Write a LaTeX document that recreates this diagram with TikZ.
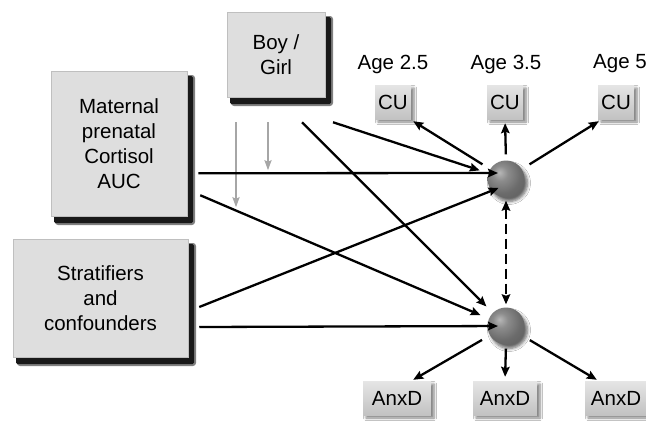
\documentclass[tikz,border=0pt]{standalone}
\usepackage{fontspec}
\setmainfont{Liberation Sans}
\usetikzlibrary{arrows.meta,shadows.blur,calc}
\pgfdeclareradialshading{gball}{\pgfpoint{-9bp}{9bp}}{%
  color(0bp)=(black!28); color(10bp)=(black!45); color(25bp)=(black!58);
  color(42bp)=(black!64); color(52bp)=(black!78); color(70bp)=(black!85)}
\begin{document}
\begin{tikzpicture}[x=1pt,y=-1pt,
  bigbox/.style={draw=black!25,line width=0.5pt,fill=black!13,align=center,
    font=\fontsize{20.5}{25}\selectfont,inner sep=0pt},
  shadowbox/.style={fill=black!90,rounded corners=1.5pt},
  softshadow/.style={fill=black!50,rounded corners=3pt},
  smallbox/.style={draw=none,top color=black!10,bottom color=black!24,
    font=\fontsize{20.5}{24}\selectfont,inner sep=0pt,minimum height=34pt,
    blur shadow={shadow xshift=3pt,shadow yshift=-3pt,shadow blur steps=5,shadow blur radius=2.5pt,shadow opacity=50}},
  agelab/.style={font=\fontsize{20.5}{24}\selectfont,inner sep=0pt},
  ball/.style={circle,minimum size=37pt,inner sep=0pt,shading=gball,
    blur shadow={shadow xshift=3pt,shadow yshift=-4pt,shadow blur steps=6,shadow blur radius=3pt,shadow opacity=60}},
  arr/.style={line width=2.3pt,-{Stealth[length=10pt,width=8.5pt,inset=1.5pt]}},
  garr/.style={line width=1.9pt,draw=black!35,-{Stealth[length=10pt,width=7pt,inset=1.5pt]}},
  darr/.style={line width=2.3pt,dash pattern=on 10pt off 5pt,{Stealth[length=10pt,width=8.5pt,inset=1.5pt]}-{Stealth[length=10pt,width=8.5pt,inset=1.5pt]}}
]
\useasboundingbox (0,0) rectangle (646,421);
\fill[white] (0,0) rectangle (646,421);

% drop shadows of the big boxes
\fill[softshadow] (231,106) rectangle (333,16);
\fill[shadowbox] (230,104) rectangle (331,17);
\fill[softshadow] (55,225) rectangle (195,75);
\fill[shadowbox] (54,223) rectangle (193,76);
\fill[softshadow] (17,366) rectangle (196,243);
\fill[shadowbox] (16,364) rectangle (194,244);

% boxes
\node[bigbox,minimum width=98pt,minimum height=85pt] (boy) at (276,54.5) {Boy /\\Girl};
\node[bigbox,minimum width=136pt,minimum height=145pt] (mat) at (119,143.5) {Maternal\\prenatal\\Cortisol\\AUC};
\node[bigbox,minimum width=175pt,minimum height=118pt] (str) at (100.5,298) {Stratifiers\\and\\confounders};

% circles
\node[ball] (top) at (506,179) {};
\node[ball] (bot) at (506,326) {};

% outcome boxes
\node[smallbox,minimum width=36pt] (cu1) at (393,102) {CU};
\node[smallbox,minimum width=36pt] (cu2) at (505,102) {CU};
\node[smallbox,minimum width=36pt] (cu3) at (616,102) {CU};
\node[smallbox,minimum width=68pt] (ax1) at (397,398) {AnxD};
\node[smallbox,minimum width=64pt] (ax2) at (505,398) {AnxD};
\node[smallbox,minimum width=62pt] (ax3) at (616,398) {AnxD};

% age labels
\node[agelab] (a1) at (393,64) {Age 2.5};
\node[agelab] (a2) at (506,64) {Age 3.5};
\node[agelab] (a3) at (620,64) {Age 5};

% gray arrows
\coordinate (g1) at ($(boy.south)+(-40,110)$);
\coordinate (g2) at ($(boy.south)+(-8,73)$);
\draw[garr] ($(boy.south)+(-40,25)$) -- (g1);
\draw[garr] ($(boy.south)+(-8,25)$) -- (g2);

% incoming arrows
\draw[arr,shorten >=9pt] ($(boy.south)+(26,25)$) -- (bot);
\draw[arr,shorten >=9pt] ($(boy.south)+(57,25)$) -- (top);
\draw[arr,shorten >=8pt] ($(mat.south east)+(11,-43)$) -- ([yshift=6pt]top.center);
\draw[arr,shorten >=9pt] ($(mat.south east)+(13,-21)$) -- (bot);
\draw[arr,shorten >=8pt] ($(str.east)+(11,9)$) -- ([yshift=-6pt]top.center);
\draw[arr,shorten >=8pt] ($(str.east)+(11,29)$) -- (bot.center);

% dashed link
\draw[darr,shorten <=3pt,shorten >=3pt] (top) -- (bot);

% outgoing arrows
\draw[arr,shorten <=9pt] (top) -- ([xshift=2pt,yshift=-2pt]cu1.south east);
\draw[arr,shorten <=6pt,shorten >=4pt] (top.north) -- (cu2.south);
\draw[arr,shorten <=9pt] (top) -- ([xshift=1pt,yshift=-2pt]cu3.south west);
\draw[arr,shorten <=9pt] (bot) -- ([xshift=-18pt,yshift=1pt]ax1.north east);
\draw[arr,shorten <=4pt,shorten >=4pt] (bot.south) -- (ax2.north);
\draw[arr,shorten <=9pt] (bot) -- ([xshift=12pt,yshift=1pt]ax3.north west);
\end{tikzpicture}
\end{document}
